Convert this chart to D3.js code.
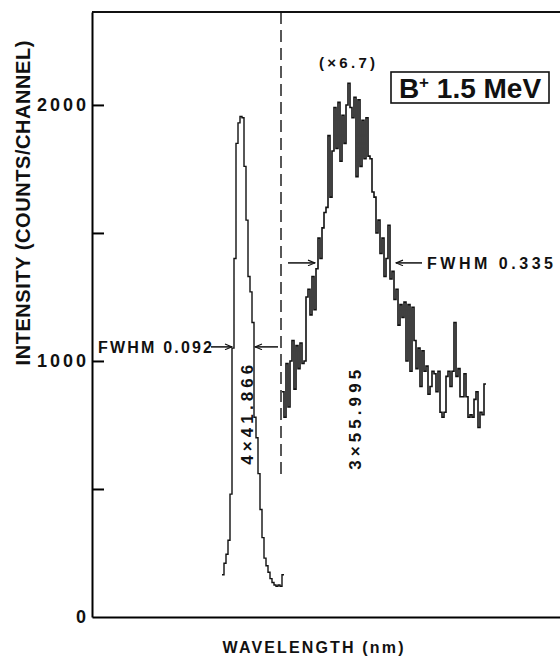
<!DOCTYPE html>
<html>
<head>
<meta charset="utf-8">
<script src="https://cdn.jsdelivr.net/npm/d3@7"></script>
<style>
  body { margin: 0; background: #fff; }
  svg text { font-family: "Liberation Sans", Arial, sans-serif; font-weight: bold; fill: #111; }
</style>
</head>
<body>
<svg id="chart" width="560" height="665"></svg>
<script>
// channel numbers are arbitrary (wavelength axis has no tick labels)
const narrowStart = 65;
const narrowCounts = [165, 210, 245, 300, 480, 1050, 1400, 1850, 1930, 1955, 1950, 1760, 1550, 1330, 1270,
  1150, 780, 700, 560, 420, 310, 230, 200, 175, 150, 135, 125, 120, 125, 120, 165];

const broadStart = 95;
const broadCounts = [880, 780, 990, 820, 1000, 1080, 890, 1060, 970, 1070, 990, 1000, 1250, 1280, 1180,
  1330, 1200, 1360, 1480, 1400, 1520, 1580, 1600, 1880, 1640, 1820, 1990, 1830, 2010, 1780,
  1960, 1850, 2000, 2085, 1990, 1950, 2030, 1720, 2020, 1760, 1940, 1790, 1950, 1800, 1790,
  1660, 1640, 1500, 1550, 1420, 1480, 1330, 1400, 1530, 1320, 1350, 1240, 1280, 1140, 1220,
  1170, 1230, 1000, 1220, 960, 1210, 1080, 970, 1050, 900, 1040, 960, 980, 870, 900,
  960, 950, 880, 960, 800, 780, 800, 940, 960, 900, 960, 1150, 940, 970, 860,
  860, 950, 860, 780, 790, 780, 850, 880, 740, 800, 790, 910];

const yTicks = [0, 500, 1000, 1500, 2000];
const yLabels = [0, 1000, 2000];

// FWHM markers: [level, left channel, right channel]
const narrowFwhm = [1055, 70, 81.5];
const broadFwhm = [1383, 111.5, 152];
const lineMarks = [["4×41.866", 77.5, 790], ["3×55.995", 131.5, 770]];

const width = 560, height = 665;
const margin = { top: 12, right: -12, bottom: 48, left: 92 };

const svg = d3.select("#chart");

const x = d3.scaleLinear().domain([0, 240]).range([margin.left, width - margin.right]);
const y = d3.scaleLinear().domain([0, 2363]).range([height - margin.bottom, margin.top]);

// text spread to a given length
const label = (str, px, py, rot, len, size, anchor) => svg.append("text")
  .attr("transform", `translate(${px},${py}) rotate(${rot})`)
  .attr("text-anchor", anchor || "middle")
  .attr("textLength", len).attr("lengthAdjust", "spacing")
  .style("font-size", size + "px")
  .text(str);

// arrow marker
svg.append("defs").append("marker")
  .attr("id", "arr").attr("viewBox", "0 0 10 10")
  .attr("refX", 10).attr("refY", 5)
  .attr("markerWidth", 9).attr("markerHeight", 7)
  .attr("markerUnits", "userSpaceOnUse")
  .attr("orient", "auto")
  .append("path").attr("d", "M0,1 L10,5 L0,9").attr("fill", "none")
  .attr("stroke", "#111").attr("stroke-width", 1.6);

// frame
svg.append("g")
  .attr("transform", `translate(0,${y(0)})`)
  .call(d3.axisBottom(x).tickValues([]).tickSizeOuter(0))
  .call(g => g.select(".domain").attr("stroke-width", 2));

svg.append("line")
  .attr("x1", x(0)).attr("x2", x(240))
  .attr("y1", y(2363)).attr("y2", y(2363))
  .attr("stroke", "#111").attr("stroke-width", 2);

const yAxis = svg.append("g")
  .attr("transform", `translate(${x(0)},0)`)
  .call(d3.axisLeft(y).tickValues(yTicks).tickSizeInner(-12).tickSizeOuter(0).tickPadding(3)
    .tickFormat(d => yLabels.includes(d) ? d : ""));
yAxis.select(".domain").attr("stroke-width", 2);
yAxis.selectAll(".tick line").attr("stroke-width", 2);
yAxis.selectAll(".tick text")
  .style("font-size", "18px").style("letter-spacing", "3px")
  .style("font-family", "'Liberation Sans', Arial, sans-serif").style("font-weight", "bold")
  .attr("fill", "#111");
yAxis.selectAll(".tick").filter(d => d === 0).select("line").remove();

// axis titles
label("INTENSITY (COUNTS/CHANNEL)", 30, 203, -90, 325, 20);
label("WAVELENGTH (nm)", 313, 653, 0, 181, 16);

// dashed separator
svg.append("line")
  .attr("x1", x(94.5)).attr("x2", x(94.5))
  .attr("y1", y(2363)).attr("y2", y(555))
  .attr("stroke", "#111").attr("stroke-width", 1.4)
  .attr("stroke-dasharray", "12,6");

// spectra
const step = d3.line().x(d => x(d[0])).y(d => y(d[1])).curve(d3.curveStepAfter);
const toPts = (start, vals) => {
  const pts = vals.map((v, i) => [start + i, v]);
  pts.push([start + vals.length, vals[vals.length - 1]]);
  return pts;
};

svg.append("path")
  .datum(toPts(narrowStart, narrowCounts))
  .attr("d", step).attr("fill", "none")
  .attr("stroke", "#111").attr("stroke-width", 1.4);

svg.append("path")
  .datum(toPts(broadStart, broadCounts))
  .attr("d", step).attr("fill", "none")
  .attr("stroke", "#111").attr("stroke-width", 1.6);

// FWHM arrows
const arrow = (x1, x2, yy) => svg.append("line")
  .attr("x1", x1).attr("x2", x2).attr("y1", yy).attr("y2", yy)
  .attr("stroke", "#111").attr("stroke-width", 1.5)
  .attr("marker-end", "url(#arr)");

arrow(x(narrowFwhm[1]) - 21, x(narrowFwhm[1]), y(narrowFwhm[0]));
arrow(x(narrowFwhm[2]) + 23, x(narrowFwhm[2]), y(narrowFwhm[0]));
arrow(x(broadFwhm[1]) - 27, x(broadFwhm[1]), y(broadFwhm[0]));
arrow(x(broadFwhm[2]) + 26, x(broadFwhm[2]), y(broadFwhm[0]));

label("FWHM  0.092", 98, y(narrowFwhm[0]) + 6, 0, 114, 16, "start");
label("FWHM  0.335", x(broadFwhm[2]) + 31, y(broadFwhm[0]) + 6, 0, 126, 16, "start");

// line identifications
lineMarks.forEach(([str, ch, v]) => {
  label(str, x(ch) + 6, y(v), -90, 100, 17);
});

label("(×6.7)", 347, 68, 0, 56, 15);

// ion label box
svg.append("rect")
  .attr("x", 391).attr("y", 72).attr("width", 158).attr("height", 31)
  .attr("fill", "none").attr("stroke", "#111").attr("stroke-width", 1.6);

const ion = svg.append("text")
  .attr("x", 470).attr("y", 98)
  .attr("text-anchor", "middle")
  .style("font-size", "28px");
ion.append("tspan").text("B");
ion.append("tspan").attr("dy", -10).style("font-size", "17px").text("+");
ion.append("tspan").attr("dy", 10).text(" 1.5 MeV");
</script>
</body>
</html>
